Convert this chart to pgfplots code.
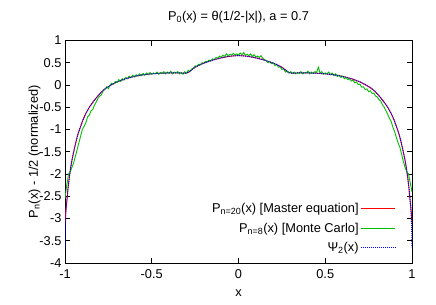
\documentclass[border=0pt]{standalone}
\usepackage{fontspec}
\setmainfont{Liberation Sans}
\usepackage{pgfplots}
\pgfplotsset{compat=1.18}
\definecolor{gpred}{rgb}{1,0,0}
\definecolor{gpgreen}{rgb}{0,0.75,0}
\definecolor{gpblue}{rgb}{0,0,1}
\begin{document}
\begin{tikzpicture}[font=\fontsize{12.8bp}{15bp}\selectfont]
\begin{axis}[
  at={(0,0)}, anchor=south west,
  scale only axis, width=347bp, height=222.5bp,
  xmin=-1, xmax=1, ymin=-4, ymax=1,
  xtick={-1,-0.5,0,0.5,1},
  xticklabels={-1,-0.5,0,0.5,1},
  ytick={-4,-3.5,-3,-2.5,-2,-1.5,-1,-0.5,0,0.5,1},
  yticklabels={-4,-3.5,-3,-2.5,-2,-1.5,-1,-0.5,0,0.5,1},
  tick align=inside, major tick length=5bp,
  tick style={black, line width=0.6pt},
  axis line style={line width=0.8pt},
  xticklabel style={yshift=-3bp},
  title={P\textsubscript{0}(x) = θ(1/2-|x|), a = 0.7},
  title style={at={(axis description cs:0.5,1)}, anchor=south, yshift=8bp},
  xlabel={x},
  ylabel={P\textsubscript{n}(x) - 1/2 (normalized)},
  xlabel style={yshift=-4bp},
  ylabel style={yshift=-8bp},
  legend plot pos=right,
  legend cell align=right,
  legend style={at={(rel axis cs:0.962,0.025)}, anchor=south east, draw=none, fill=none, row sep=5bp},
  legend image code/.code={\draw[mark repeat=2,mark phase=2] plot coordinates {(0cm,0cm) (0.6cm,0cm) (1.2cm,0cm)};},
]
% Master equation
\addplot[color=gpred, line width=0.9pt] coordinates {
(-1,-3.1) (-0.997,-2.9) (-0.993,-2.75) (-0.988,-2.55) (-0.982,-2.3) (-0.975,-2.07) (-0.967,-1.85) (-0.958,-1.65) (-0.948,-1.47) (-0.937,-1.28) (-0.925,-1.1) (-0.91,-0.93) (-0.895,-0.77) (-0.88,-0.64) (-0.86,-0.5) (-0.84,-0.39) (-0.82,-0.29) (-0.8,-0.2) (-0.78,-0.12) (-0.76,-0.06) (-0.73,0.01) (-0.7,0.07) (-0.66,0.13) (-0.62,0.175) (-0.58,0.21) (-0.54,0.235) (-0.5,0.252) (-0.45,0.265) (-0.4,0.272) (-0.35,0.273) (-0.31,0.265) (-0.29,0.28) (-0.27,0.34) (-0.25,0.4) (-0.22,0.46) (-0.18,0.52) (-0.14,0.57) (-0.1,0.61) (-0.06,0.64) (-0.03,0.655) (0,0.66)
(0.03,0.655) (0.06,0.64) (0.1,0.61) (0.14,0.57) (0.18,0.52) (0.22,0.46) (0.25,0.4) (0.27,0.34) (0.29,0.28) (0.31,0.265) (0.35,0.273) (0.4,0.272) (0.45,0.265) (0.5,0.252) (0.54,0.235) (0.58,0.21) (0.62,0.175) (0.66,0.13) (0.7,0.07) (0.73,0.01) (0.76,-0.06) (0.78,-0.12) (0.8,-0.2) (0.82,-0.29) (0.84,-0.39) (0.86,-0.5) (0.88,-0.64) (0.895,-0.77) (0.91,-0.93) (0.925,-1.1) (0.937,-1.28) (0.948,-1.47) (0.958,-1.65) (0.967,-1.85) (0.975,-2.07) (0.982,-2.3) (0.988,-2.55) (0.993,-2.75) (0.997,-2.9) (1,-3.1)
};
\addlegendentry{P\textsubscript{n=20}(x) [Master equation]}
% Monte Carlo
\addplot[color=gpgreen, line width=0.9pt] coordinates {
(-1,-2.55) (-0.995,-2.4) (-0.99,-2.25) (-0.985,-2.15) (-0.98,-2.0) (-0.97,-1.95) (-0.96,-1.85) (-0.95,-1.75) (-0.94,-1.6) (-0.93,-1.45) (-0.92,-1.3) (-0.91,-1.15) (-0.9,-1.0) (-0.89,-0.93) (-0.88,-0.85) (-0.87,-0.72) (-0.86,-0.68) (-0.85,-0.58) (-0.84,-0.55) (-0.83,-0.45) (-0.82,-0.38) (-0.81,-0.3) (-0.8,-0.25) (-0.79,-0.22) (-0.78,-0.13) (-0.77,-0.1) (-0.76,-0.04) (-0.75,-0.08) (-0.74,0.0) (-0.73,0.04) (-0.72,0.02) (-0.71,0.08) (-0.7,0.05) (-0.69,0.12) (-0.68,0.08) (-0.67,0.14) (-0.66,0.11) (-0.65,0.17) (-0.64,0.14) (-0.63,0.2) (-0.62,0.16) (-0.61,0.22) (-0.6,0.18) (-0.59,0.23) (-0.58,0.2) (-0.57,0.25) (-0.56,0.21) (-0.55,0.26) (-0.54,0.22) (-0.53,0.27) (-0.52,0.23) (-0.51,0.28) (-0.5,0.24) (-0.49,0.27) (-0.48,0.25) (-0.47,0.29) (-0.46,0.24) (-0.45,0.28) (-0.44,0.26) (-0.43,0.3) (-0.42,0.25) (-0.41,0.29) (-0.4,0.26) (-0.39,0.31) (-0.38,0.25) (-0.37,0.29) (-0.36,0.27) (-0.35,0.3) (-0.34,0.25) (-0.33,0.28) (-0.32,0.24) (-0.31,0.3) (-0.3,0.26) (-0.29,0.33) (-0.28,0.3) (-0.27,0.36) (-0.26,0.38) (-0.25,0.43) (-0.24,0.42) (-0.23,0.47) (-0.22,0.45) (-0.21,0.5) (-0.2,0.49) (-0.19,0.53) (-0.18,0.52) (-0.17,0.56) (-0.16,0.54) (-0.15,0.59) (-0.14,0.57) (-0.13,0.62) (-0.12,0.6) (-0.11,0.65) (-0.1,0.62) (-0.09,0.67) (-0.08,0.64) (-0.07,0.7) (-0.06,0.66) (-0.05,0.69) (-0.04,0.67) (-0.03,0.71) (-0.02,0.68) (-0.01,0.7) (0,0.67) (0.01,0.72) (0.02,0.68) (0.03,0.73) (0.04,0.67) (0.05,0.69) (0.06,0.66) (0.07,0.7) (0.08,0.64) (0.09,0.68) (0.1,0.63) (0.11,0.65) (0.12,0.62) (0.13,0.66) (0.14,0.6) (0.15,0.57) (0.16,0.55) (0.17,0.5) (0.18,0.53) (0.19,0.48) (0.2,0.5) (0.21,0.44) (0.22,0.46) (0.23,0.4) (0.24,0.41) (0.25,0.35) (0.26,0.36) (0.27,0.29) (0.28,0.31) (0.29,0.27) (0.3,0.3) (0.31,0.26) (0.32,0.29) (0.33,0.25) (0.34,0.28) (0.35,0.26) (0.36,0.3) (0.37,0.25) (0.38,0.28) (0.39,0.27) (0.4,0.31) (0.41,0.25) (0.42,0.29) (0.43,0.26) (0.44,0.3) (0.45,0.28) (0.46,0.4) (0.47,0.27) (0.48,0.3) (0.49,0.24) (0.5,0.27) (0.51,0.25) (0.52,0.29) (0.53,0.23) (0.54,0.27) (0.55,0.21) (0.56,0.25) (0.57,0.19) (0.58,0.22) (0.59,0.17) (0.6,0.2) (0.61,0.14) (0.62,0.17) (0.63,0.12) (0.64,0.14) (0.65,0.09) (0.66,0.11) (0.67,0.05) (0.68,0.07) (0.69,0.01) (0.7,0.02) (0.71,-0.05) (0.72,-0.04) (0.73,-0.1) (0.74,-0.09) (0.75,-0.15) (0.76,-0.13) (0.77,-0.19) (0.78,-0.18) (0.79,-0.25) (0.8,-0.27) (0.81,-0.33) (0.82,-0.36) (0.83,-0.45) (0.84,-0.5) (0.85,-0.58) (0.86,-0.66) (0.87,-0.75) (0.88,-0.82) (0.89,-0.95) (0.9,-1.05) (0.91,-1.18) (0.92,-1.3) (0.93,-1.4) (0.94,-1.55) (0.95,-1.72) (0.96,-1.85) (0.97,-1.95) (0.98,-2.0) (0.985,-2.1) (0.99,-2.2) (0.995,-2.3) (1,-2.4)
};
\addlegendentry{P\textsubscript{n=8}(x) [Monte Carlo]}
% Psi_2
\addplot[color=gpblue, line width=1pt, densely dotted] coordinates {
(-1,-3.65) (-0.998,-3.2) (-0.995,-2.9) (-0.993,-2.75) (-0.988,-2.55) (-0.982,-2.3) (-0.975,-2.07) (-0.967,-1.85) (-0.958,-1.65) (-0.948,-1.47) (-0.937,-1.28) (-0.925,-1.1) (-0.91,-0.93) (-0.895,-0.77) (-0.88,-0.64) (-0.86,-0.5) (-0.84,-0.39) (-0.82,-0.29) (-0.8,-0.2) (-0.78,-0.12) (-0.76,-0.06) (-0.73,0.01) (-0.7,0.07) (-0.66,0.13) (-0.62,0.175) (-0.58,0.21) (-0.54,0.235) (-0.5,0.252) (-0.45,0.265) (-0.4,0.272) (-0.35,0.273) (-0.31,0.265) (-0.29,0.28) (-0.27,0.34) (-0.25,0.4) (-0.22,0.46) (-0.18,0.52) (-0.14,0.57) (-0.1,0.61) (-0.06,0.64) (-0.03,0.655) (0,0.66)
(0.03,0.655) (0.06,0.64) (0.1,0.61) (0.14,0.57) (0.18,0.52) (0.22,0.46) (0.25,0.4) (0.27,0.34) (0.29,0.28) (0.31,0.265) (0.35,0.273) (0.4,0.272) (0.45,0.265) (0.5,0.252) (0.54,0.235) (0.58,0.21) (0.62,0.175) (0.66,0.13) (0.7,0.07) (0.73,0.01) (0.76,-0.06) (0.78,-0.12) (0.8,-0.2) (0.82,-0.29) (0.84,-0.39) (0.86,-0.5) (0.88,-0.64) (0.895,-0.77) (0.91,-0.93) (0.925,-1.1) (0.937,-1.28) (0.948,-1.47) (0.958,-1.65) (0.967,-1.85) (0.975,-2.07) (0.982,-2.3) (0.988,-2.55) (0.993,-2.75) (0.995,-2.9) (0.998,-3.2) (1,-3.65)
};
\addlegendentry{Ψ\textsubscript{2}(x)}
\end{axis}
\pgfresetboundingbox
\useasboundingbox (-65bp,-42bp) rectangle (371bp,263bp);
\end{tikzpicture}
\end{document}
